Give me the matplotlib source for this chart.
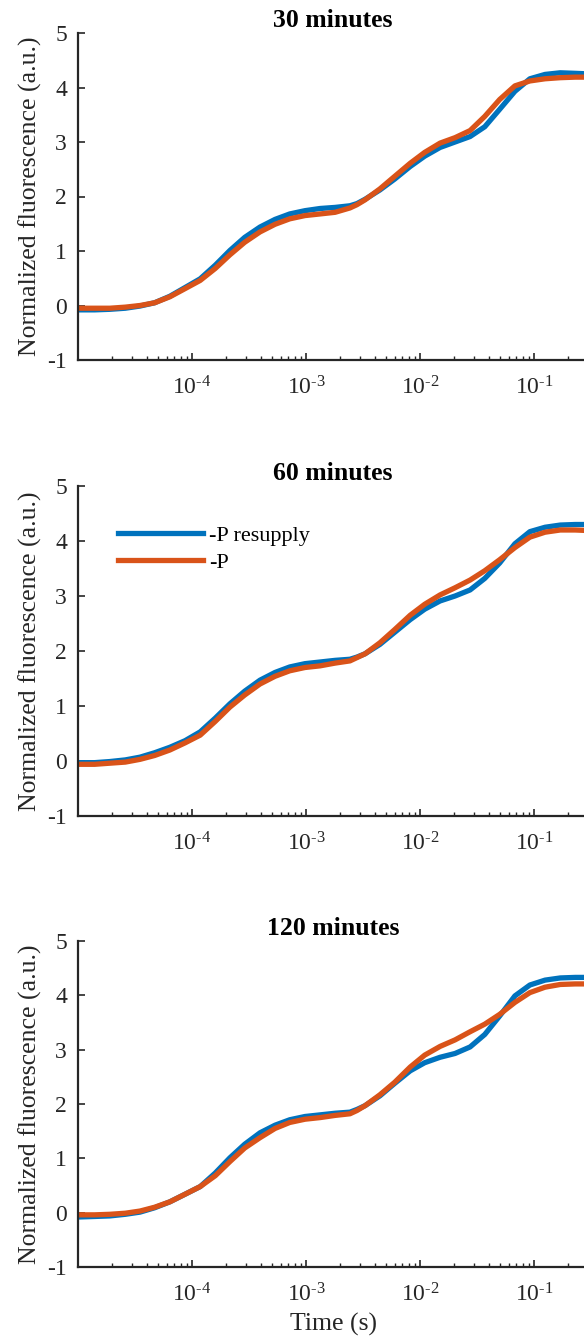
import math
import matplotlib
matplotlib.use("Agg")
import matplotlib.pyplot as plt
from matplotlib.ticker import FixedLocator, LogLocator, NullFormatter, FuncFormatter

plt.rcParams['font.family'] = ['Liberation Serif', 'DejaVu Serif']
plt.rcParams['mathtext.fontset'] = 'custom'
plt.rcParams['mathtext.rm'] = 'Liberation Serif'
plt.rcParams['mathtext.it'] = 'Liberation Serif:italic'
plt.rcParams['mathtext.bf'] = 'Liberation Serif:bold'

# ---- data ----
time_s = [1.0e-5, 1.4e-5, 1.9e-5, 2.6e-5, 3.5e-5, 4.7e-5, 6.4e-5, 8.7e-5, 1.18e-4, 1.6e-4,
          2.15e-4, 2.9e-4, 3.95e-4, 5.35e-4, 7.2e-4, 9.8e-4, 1.33e-3, 1.8e-3, 2.43e-3, 2.8e-3,
          3.3e-3, 4.45e-3, 6.0e-3, 8.2e-3, 1.1e-2, 1.5e-2, 2.03e-2, 2.75e-2, 3.7e-2, 5.0e-2,
          6.8e-2, 9.2e-2, 0.125, 0.17, 0.23, 0.30]

titles = ["30 minutes", "60 minutes", "120 minutes"]
series_names = ["-P resupply", "-P"]

resupply_30 = [-0.08, -0.08, -0.07, -0.05, -0.01, 0.05, 0.17, 0.33, 0.49, 0.74,
               1.01, 1.25, 1.44, 1.58, 1.68, 1.74, 1.78, 1.80, 1.83, 1.87,
               1.95, 2.12, 2.32, 2.55, 2.74, 2.90, 3.00, 3.10, 3.28, 3.60,
               3.93, 4.16, 4.24, 4.27, 4.26, 4.25]
minusP_30 = [-0.05, -0.05, -0.05, -0.03, 0.00, 0.05, 0.16, 0.31, 0.46, 0.68,
             0.93, 1.16, 1.35, 1.49, 1.59, 1.65, 1.68, 1.71, 1.79, 1.85,
             1.94, 2.14, 2.37, 2.61, 2.81, 2.98, 3.08, 3.21, 3.47, 3.78,
             4.03, 4.12, 4.16, 4.18, 4.19, 4.19]

resupply_60 = [-0.03, -0.03, -0.01, 0.02, 0.07, 0.15, 0.25, 0.37, 0.53, 0.78,
               1.04, 1.27, 1.47, 1.61, 1.71, 1.77, 1.80, 1.83, 1.85, 1.89,
               1.95, 2.12, 2.34, 2.57, 2.76, 2.91, 3.00, 3.11, 3.32, 3.60,
               3.95, 4.17, 4.25, 4.29, 4.30, 4.30]
minusP_60 = [-0.06, -0.06, -0.04, -0.02, 0.03, 0.10, 0.20, 0.33, 0.47, 0.72,
             0.98, 1.20, 1.40, 1.54, 1.64, 1.70, 1.73, 1.78, 1.82, 1.88,
             1.95, 2.15, 2.39, 2.65, 2.85, 3.02, 3.15, 3.29, 3.46, 3.66,
             3.88, 4.07, 4.16, 4.20, 4.20, 4.19]

resupply_120 = [-0.08, -0.07, -0.06, -0.03, 0.01, 0.09, 0.20, 0.34, 0.48, 0.73,
                1.01, 1.26, 1.47, 1.61, 1.71, 1.77, 1.80, 1.83, 1.85, 1.90,
                1.97, 2.15, 2.38, 2.61, 2.76, 2.86, 2.93, 3.05, 3.28, 3.62,
                3.99, 4.19, 4.28, 4.32, 4.33, 4.33]
minusP_120 = [-0.04, -0.04, -0.03, -0.01, 0.03, 0.10, 0.20, 0.34, 0.48, 0.68,
              0.94, 1.19, 1.38, 1.55, 1.66, 1.72, 1.75, 1.79, 1.82, 1.88,
              1.97, 2.17, 2.40, 2.68, 2.90, 3.06, 3.18, 3.33, 3.47, 3.65,
              3.87, 4.05, 4.15, 4.20, 4.21, 4.21]

yticks = [-1, 0, 1, 2, 3, 4, 5]
xticks = [1e-4, 1e-3, 1e-2, 1e-1]

panels = [(resupply_30, minusP_30), (resupply_60, minusP_60), (resupply_120, minusP_120)]

# ---- figure ----
W, H = 584, 1343
fig = plt.figure(figsize=(W / 100, H / 100), dpi=100)

ax_left = 78 / W
ax_right = 588.4 / W
axes_px = [(33, 360), (486, 816), (941, 1267)]

blue = '#0072BD'
orange = '#D95319'
gray = '#262626'


def fmt(v, pos):
    e = int(round(math.log10(v)))
    return '$\\mathregular{10^{\u2010%d}}$' % abs(e)


for i, ((top, bot), title, (res, mp)) in enumerate(zip(axes_px, titles, panels)):
    ax = fig.add_axes([ax_left, 1 - bot / H, ax_right - ax_left, (bot - top) / H])
    l1, = ax.plot(time_s, res, color=blue, lw=3.8, solid_joinstyle='round', label=series_names[0])
    l2, = ax.plot(time_s, mp, color=orange, lw=3.8, solid_joinstyle='round', label=series_names[1])
    ax.set_xscale('log')
    ax.set_xlim(1e-5, 0.3)
    ax.set_ylim(-1, 5)
    ax.set_yticks(yticks)
    ax.set_yticklabels([str(v) for v in yticks])
    ax.xaxis.set_major_locator(FixedLocator(xticks))
    ax.xaxis.set_major_formatter(FuncFormatter(fmt))
    ax.xaxis.set_minor_locator(LogLocator(base=10, subs=range(2, 10), numticks=20))
    ax.xaxis.set_minor_formatter(NullFormatter())
    for s in ['top', 'right']:
        ax.spines[s].set_visible(False)
    for s in ['left', 'bottom']:
        ax.spines[s].set_linewidth(1.6)
        ax.spines[s].set_color(gray)
    ax.tick_params(which='major', direction='in', length=5, width=1.2, colors=gray,
                   labelsize=17)
    ax.tick_params(which='minor', direction='in', length=3, width=1.0, colors=gray)
    ax.tick_params(axis='x', which='major', pad=12)
    ax.tick_params(axis='y', which='major', pad=8)
    ax.set_title(title, fontsize=18.5, fontweight='bold', pad=4, color='black')
    ax.set_ylabel('Normalized fluorescence (a.u.)', fontsize=18.5, color=gray, labelpad=4)
    if i == 1:
        ax.legend(handles=[l1, l2], loc='upper left', bbox_to_anchor=(0.078, 0.881),
                  frameon=False, fontsize=16, handlelength=3.85, handletextpad=0.25,
                  labelspacing=0.28, borderaxespad=0, borderpad=0)
    if i == 2:
        ax.set_xlabel('Time (s)', fontsize=18.5, color=gray, labelpad=4)

fig.savefig('out.png', dpi=100)
